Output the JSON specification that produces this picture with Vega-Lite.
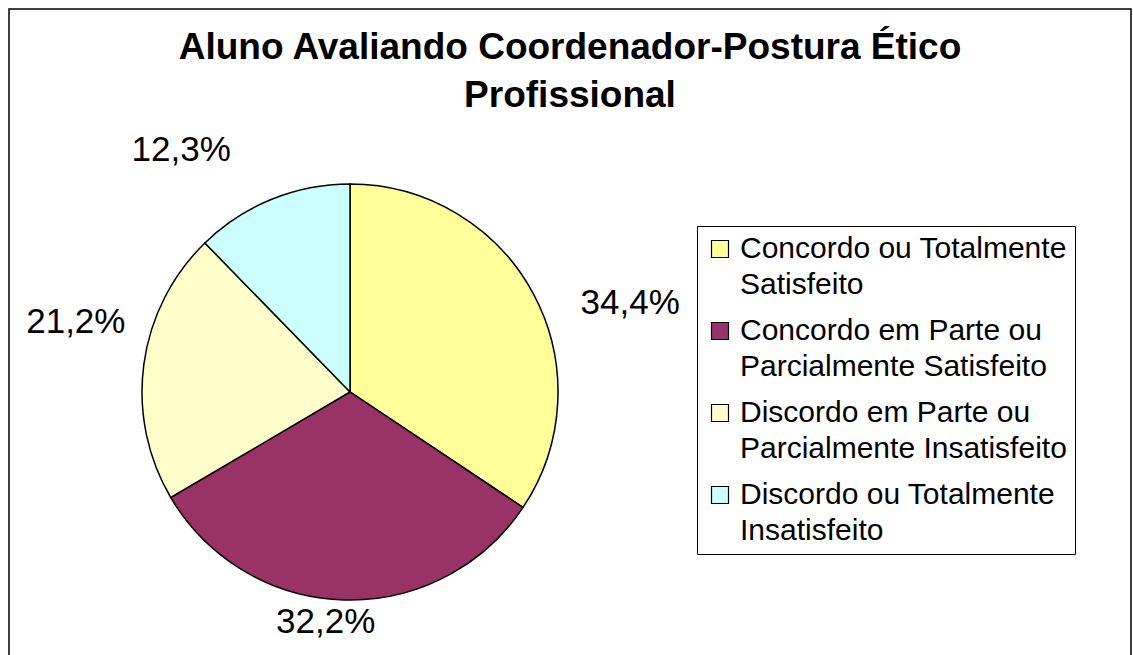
{
  "$schema": "https://vega.github.io/schema/vega-lite/v6.json",
  "width": 1122,
  "height": 660,
  "autosize": "none",
  "padding": {"left": 9, "top": 9, "right": 2, "bottom": 0},
  "background": "white",
  "title": {
    "text": ["Aluno Avaliando Coordenador-Postura Ético", "Profissional"],
    "font": "Liberation Sans",
    "fontSize": 37,
    "fontWeight": "bold",
    "lineHeight": 48,
    "color": "black",
    "anchor": "middle",
    "offset": -109
  },
  "data": {
    "values": [
      {"cat": "Concordo ou Totalmente Satisfeito", "value": 34.4, "ord": 1},
      {"cat": "Concordo em Parte ou Parcialmente Satisfeito", "value": 32.2, "ord": 2},
      {"cat": "Discordo em Parte ou Parcialmente Insatisfeito", "value": 21.2, "ord": 3},
      {"cat": "Discordo ou Totalmente Insatisfeito", "value": 12.3, "ord": 4}
    ]
  },
  "transform": [
    {"calculate": "replace(format(datum.value, '.1f'), '.', ',') + '%'", "as": "lbl"}
  ],
  "layer": [
    {
      "mark": {"type": "point", "opacity": 0},
      "encoding": {
        "x": {"field": "value", "type": "quantitative", "axis": null},
        "y": {"field": "ord", "type": "quantitative", "axis": null}
      }
    },
    {
      "mark": {"type": "arc", "x": 341, "y": 383, "outerRadius": 208, "stroke": "black", "strokeWidth": 1.5},
      "encoding": {
        "theta": {"field": "value", "type": "quantitative", "stack": true},
        "order": {"field": "ord", "type": "quantitative"},
        "color": {
          "field": "cat",
          "type": "nominal",
          "scale": {
            "domain": [
              "Concordo ou Totalmente Satisfeito",
              "Concordo em Parte ou Parcialmente Satisfeito",
              "Discordo em Parte ou Parcialmente Insatisfeito",
              "Discordo ou Totalmente Insatisfeito"
            ],
            "range": ["#FFFF99", "#993366", "#FFFFCC", "#CCFFFF"]
          },
          "legend": {
            "title": null,
            "orient": "none",
            "legendX": 688,
            "legendY": 217,
            "strokeColor": "black",
            "fillColor": "white",
            "padding": 8,
            "symbolType": "square",
            "symbolSize": 289,
            "symbolStrokeColor": "black",
            "symbolStrokeWidth": 1.2,
            "labelFont": "Liberation Sans",
            "labelFontSize": 30,
            "labelColor": "black",
            "labelLimit": 420,
            "labelOffset": 5,
            "labelBaseline": "top",
            "rowPadding": 16,
            "encode": {"labels": {"update": {"lineHeight": {"value": 36}, "dy": {"value": -15}}}},
            "labelExpr": "datum.label == 'Concordo ou Totalmente Satisfeito' ? ['Concordo ou Totalmente', 'Satisfeito'] : datum.label == 'Concordo em Parte ou Parcialmente Satisfeito' ? ['Concordo em Parte ou', 'Parcialmente Satisfeito'] : datum.label == 'Discordo em Parte ou Parcialmente Insatisfeito' ? ['Discordo em Parte ou', 'Parcialmente Insatisfeito'] : ['Discordo ou Totalmente', 'Insatisfeito']"
          }
        }
      }
    },
    {
      "mark": {"type": "text", "x": 341, "y": 383, "radius": 294, "thetaOffset": 0.183, "font": "Liberation Sans", "fontSize": 35, "color": "black"},
      "encoding": {
        "theta": {"field": "value", "type": "quantitative", "stack": true},
        "order": {"field": "ord", "type": "quantitative"},
        "text": {"condition": {"test": "datum.ord == 1", "field": "lbl"}, "value": ""}
      }
    },
    {
      "mark": {"type": "text", "x": 341, "y": 383, "radius": 231, "thetaOffset": 0.077, "font": "Liberation Sans", "fontSize": 35, "color": "black"},
      "encoding": {
        "theta": {"field": "value", "type": "quantitative", "stack": true},
        "order": {"field": "ord", "type": "quantitative"},
        "text": {"condition": {"test": "datum.ord == 2", "field": "lbl"}, "value": ""}
      }
    },
    {
      "mark": {"type": "text", "x": 341, "y": 383, "radius": 283, "thetaOffset": 0.117, "font": "Liberation Sans", "fontSize": 35, "color": "black"},
      "encoding": {
        "theta": {"field": "value", "type": "quantitative", "stack": true},
        "order": {"field": "ord", "type": "quantitative"},
        "text": {"condition": {"test": "datum.ord == 3", "field": "lbl"}, "value": ""}
      }
    },
    {
      "mark": {"type": "text", "x": 341, "y": 383, "radius": 295, "thetaOffset": -0.223, "font": "Liberation Sans", "fontSize": 35, "color": "black"},
      "encoding": {
        "theta": {"field": "value", "type": "quantitative", "stack": true},
        "order": {"field": "ord", "type": "quantitative"},
        "text": {"condition": {"test": "datum.ord == 4", "field": "lbl"}, "value": ""}
      }
    }
  ],
  "config": {
    "view": {"stroke": "black", "strokeWidth": 1.5}
  }
}
